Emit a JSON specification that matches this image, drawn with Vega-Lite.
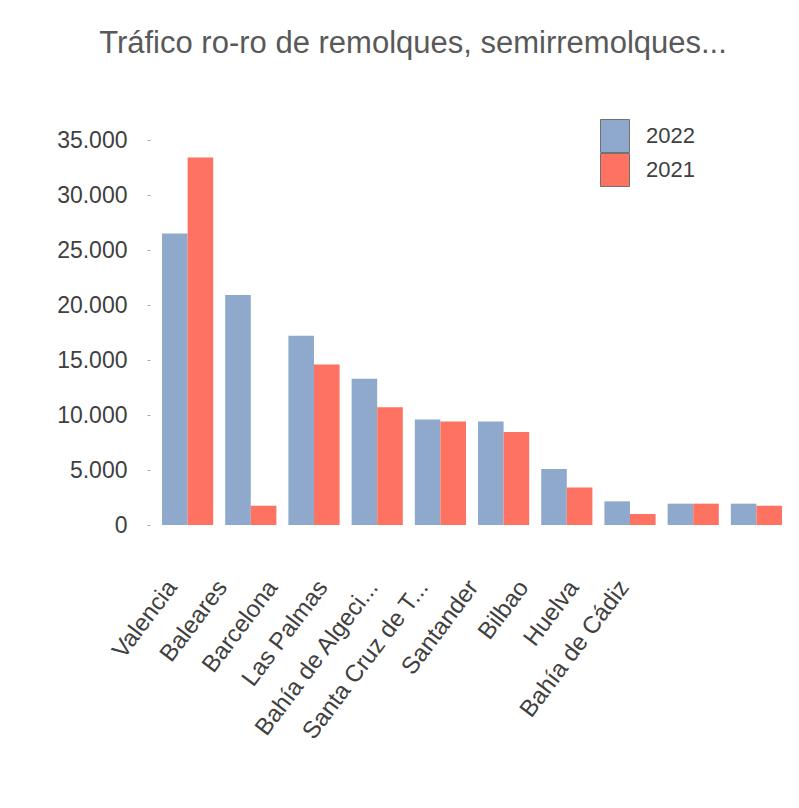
{
  "$schema": "https://vega.github.io/schema/vega-lite/v6.json",
  "width": 632,
  "height": 385,
  "autosize": {"type": "none"},
  "padding": {"left": 156, "top": 140, "right": 11, "bottom": 283},
  "background": "white",
  "title": {
    "text": "Tráfico ro-ro de remolques, semirremolques...",
    "anchor": "middle",
    "dx": -59,
    "baseline": "alphabetic",
    "offset": 37,
    "font": "Liberation Sans",
    "fontSize": 31,
    "fontWeight": "normal",
    "color": "#595959"
  },
  "data": {
    "values": [
      {"puerto": "Valencia", "año": "2022", "valor": 26500},
      {"puerto": "Valencia", "año": "2021", "valor": 33400},
      {"puerto": "Baleares", "año": "2022", "valor": 20900},
      {"puerto": "Baleares", "año": "2021", "valor": 1750},
      {"puerto": "Barcelona", "año": "2022", "valor": 17200},
      {"puerto": "Barcelona", "año": "2021", "valor": 14600},
      {"puerto": "Las Palmas", "año": "2022", "valor": 13300},
      {"puerto": "Las Palmas", "año": "2021", "valor": 10700},
      {"puerto": "Bahía de Algeci...", "año": "2022", "valor": 9600},
      {"puerto": "Bahía de Algeci...", "año": "2021", "valor": 9400},
      {"puerto": "Santa Cruz de T...", "año": "2022", "valor": 9400},
      {"puerto": "Santa Cruz de T...", "año": "2021", "valor": 8450},
      {"puerto": "Santander", "año": "2022", "valor": 5100},
      {"puerto": "Santander", "año": "2021", "valor": 3400},
      {"puerto": "Bilbao", "año": "2022", "valor": 2150},
      {"puerto": "Bilbao", "año": "2021", "valor": 1000},
      {"puerto": "Huelva", "año": "2022", "valor": 1940},
      {"puerto": "Huelva", "año": "2021", "valor": 1940},
      {"puerto": "Bahía de Cádiz", "año": "2022", "valor": 1940},
      {"puerto": "Bahía de Cádiz", "año": "2021", "valor": 1750}
    ]
  },
  "layer": [
    {
      "mark": {"type": "bar"},
      "encoding": {
        "x": {
          "field": "puerto",
          "type": "nominal",
          "sort": ["Valencia", "Baleares", "Barcelona", "Las Palmas", "Bahía de Algeci...", "Santa Cruz de T...", "Santander", "Bilbao", "Huelva", "Bahía de Cádiz"],
          "scale": {"paddingInner": 0.19, "paddingOuter": 0.095},
          "axis": null
        },
        "xOffset": {"field": "año", "type": "nominal", "sort": ["2022", "2021"]},
        "y": {
          "field": "valor",
          "type": "quantitative",
          "scale": {"domain": [0, 35000], "nice": false},
          "axis": {
            "title": null,
            "domain": false,
            "grid": false,
            "values": [0, 5000, 10000, 15000, 20000, 25000, 30000, 35000],
            "tickSize": 3,
            "tickColor": "#aaaaaa",
            "offset": 6,
            "labelPadding": 20,
            "labelExpr": "replace(format(datum.value, ','), ',', '.')",
            "labelFont": "Liberation Sans",
            "labelFontSize": 23,
            "labelColor": "#404040"
          }
        },
        "color": {
          "field": "año",
          "type": "nominal",
          "scale": {"domain": ["2022", "2021"], "range": ["#8EA9CB", "#FE7262"]},
          "legend": {
            "title": null,
            "orient": "none",
            "legendX": 444,
            "legendY": -19,
            "symbolType": "M-1,-1.14H1V1.14H-1Z",
            "symbolSize": 841,
            "symbolStrokeColor": "#707070",
            "symbolStrokeWidth": 1,
            "symbolOpacity": 1,
            "rowPadding": -5,
            "labelOffset": 16,
            "labelFont": "Liberation Sans",
            "labelFontSize": 22,
            "labelColor": "#404040"
          }
        }
      }
    },
    {
      "mark": {"type": "point", "opacity": 0},
      "encoding": {
        "x": {
          "field": "puerto",
          "type": "nominal",
          "sort": ["Valencia", "Baleares", "Barcelona", "Las Palmas", "Bahía de Algeci...", "Santa Cruz de T...", "Santander", "Bilbao", "Huelva", "Bahía de Cádiz"],
          "scale": {"type": "point", "range": [16, 468], "padding": 0},
          "axis": {
            "title": null,
            "domain": false,
            "ticks": false,
            "labelAngle": -53,
            "labelAlign": "right",
            "labelBaseline": "middle",
            "labelPadding": 58,
            "labelFont": "Liberation Sans",
            "labelFontSize": 24,
            "labelColor": "#404040",
            "labelLimit": 400
          }
        }
      }
    }
  ],
  "resolve": {"scale": {"x": "independent"}},
  "config": {"view": {"stroke": null}}
}
